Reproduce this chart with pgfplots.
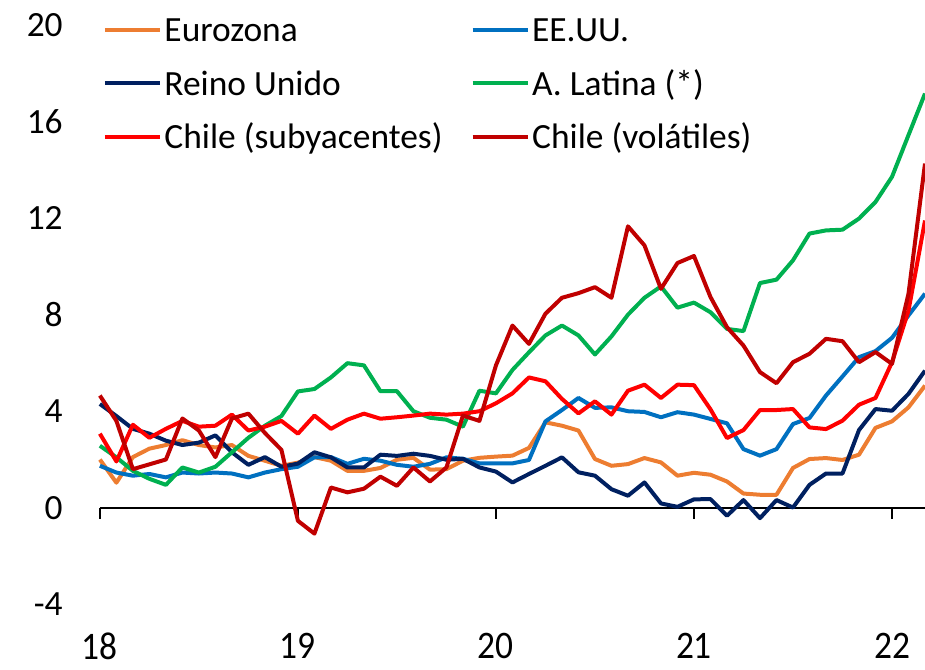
\documentclass[border=0pt]{standalone}
\usepackage{fontspec}
\setmainfont{Carlito}
\usepackage{pgfplots}
\usepackage{pgfplotstable}
\pgfplotsset{compat=1.18}
\definecolor{cEZ}{RGB}{237,125,49}
\definecolor{cUS}{RGB}{0,112,192}
\definecolor{cUK}{RGB}{0,32,96}
\definecolor{cLA}{RGB}{0,176,80}
\definecolor{cCS}{RGB}{255,0,0}
\definecolor{cCV}{RGB}{192,0,0}
\pgfplotstableread{
k ez us uk la cs cv
0 2.00 1.74 4.30 2.57 3.07 4.65
1 1.04 1.46 3.80 2.09 1.92 3.60
2 2.10 1.33 3.27 1.53 3.44 1.60
3 2.45 1.40 3.07 1.20 2.90 1.80
4 2.60 1.26 2.78 0.95 3.27 2.00
5 2.80 1.46 2.60 1.67 3.60 3.70
6 2.60 1.42 2.70 1.46 3.36 3.20
7 2.50 1.46 3.00 1.70 3.40 2.10
8 2.60 1.42 2.30 2.30 3.86 3.70
9 2.15 1.26 1.78 2.90 3.20 3.90
10 1.95 1.46 2.10 3.40 3.36 3.10
11 1.74 1.60 1.70 3.80 3.60 2.40
12 1.87 1.70 1.83 4.82 3.07 -0.54
13 2.10 2.09 2.30 4.92 3.82 -1.07
14 1.95 2.10 2.09 5.40 3.27 0.84
15 1.53 1.82 1.67 5.99 3.65 0.64
16 1.53 2.03 1.67 5.90 3.90 0.79
17 1.65 1.95 2.20 4.83 3.69 1.29
18 1.99 1.78 2.15 4.83 3.75 0.91
19 2.07 1.70 2.24 4.00 3.82 1.67
20 1.58 1.82 2.15 3.73 3.90 1.09
21 1.60 2.09 1.99 3.65 3.86 1.67
22 1.95 2.03 2.03 3.36 3.90 3.82
23 2.07 1.84 1.67 4.85 4.00 3.60
24 2.12 1.84 1.50 4.74 4.33 5.90
25 2.16 1.84 1.05 5.71 4.74 7.55
26 2.48 1.98 1.40 6.44 5.40 6.79
27 3.54 3.58 1.74 7.14 5.24 8.04
28 3.40 4.05 2.09 7.55 4.51 8.70
29 3.20 4.55 1.47 7.14 3.91 8.89
30 2.02 4.14 1.33 6.35 4.41 9.14
31 1.74 4.16 0.77 7.10 3.86 8.70
32 1.81 4.00 0.50 8.00 4.85 11.66
33 2.06 3.97 1.05 8.70 5.10 10.87
34 1.88 3.75 0.18 9.17 4.55 9.07
35 1.33 3.96 0.04 8.29 5.10 10.14
36 1.45 3.86 0.35 8.50 5.08 10.43
37 1.37 3.68 0.36 8.10 4.08 8.73
38 1.09 3.50 -0.33 7.41 2.89 7.48
39 0.59 2.43 0.32 7.32 3.22 6.72
40 0.54 2.16 -0.43 9.31 4.05 5.62
41 0.54 2.43 0.32 9.45 4.05 5.16
42 1.65 3.47 0.01 10.25 4.09 6.03
43 2.02 3.72 0.95 11.36 3.33 6.38
44 2.06 4.65 1.42 11.49 3.26 7.00
45 1.98 5.44 1.42 11.52 3.61 6.90
46 2.20 6.24 3.22 11.98 4.27 6.03
47 3.31 6.49 4.09 12.67 4.55 6.45
48 3.58 7.04 4.02 13.71 6.03 5.96
49 4.16 7.97 4.72 15.44 8.17 8.87
50 5.06 8.87 5.68 17.16 11.90 14.26
}\data
\begin{document}
\begin{tikzpicture}
\begin{axis}[
  scale only axis, width=619.5pt, height=435pt,
  xmin=0, xmax=50, ymin=-4, ymax=20,
  axis line style={draw=none},
  major tick length=0pt,
  xtick={0,12,24,36,48}, xticklabels={18,19,20,21,22},
  ytick={-4,0,4,8,12,16,20}, yticklabels={-4,0,4,8,12,16,20},
  tick label style={font=\fontsize{26.6}{32}\selectfont, inner sep=0pt},
  xticklabel style={anchor=north, yshift=-21.5pt, yscale=1.1},
  yticklabel style={anchor=east, xshift=-27.75pt},
  clip=false,
  every axis plot/.append style={line width=3pt, line join=round},
  legend cell align=left,
  legend columns=2,
  legend style={draw=none, fill=none, at={(rel axis cs:0.0036,1.0259)}, anchor=north west,
    inner sep=0pt, outer sep=0pt, row sep=9.2pt,
    font=\fontsize{26.6}{32}\selectfont,
    nodes={inner sep=0pt, text height=24pt, text depth=6.65pt},
    /tikz/every odd column/.append style={column sep=2pt},
    /tikz/every even column/.append style={column sep=21pt}},
  legend image code/.code={\draw[#1, line width=3pt] (0pt,0pt) -- (41.25pt,0pt);},
]
\draw[black, line width=1.5pt] (axis cs:0,0) -- (axis cs:50,0)
  (axis cs:0,0) -- ++(0pt,-8.25pt)
  (axis cs:12,0) -- ++(0pt,-8.25pt)
  (axis cs:24,0) -- ++(0pt,-8.25pt)
  (axis cs:36,0) -- ++(0pt,-8.25pt)
  (axis cs:48,0) -- ++(0pt,-8.25pt);
\addplot[cEZ] table[x=k, y=ez] {\data};
\addlegendentry{Eurozona}
\addplot[cUS] table[x=k, y=us] {\data};
\addlegendentry{EE.UU.}
\addplot[cUK] table[x=k, y=uk] {\data};
\addlegendentry{Reino Unido}
\addplot[cLA] table[x=k, y=la] {\data};
\addlegendentry{A. Latina (*)}
\addplot[cCS] table[x=k, y=cs] {\data};
\addlegendentry{Chile (subyacentes)}
\addplot[cCV] table[x=k, y=cv] {\data};
\addlegendentry{Chile (volátiles)}
\coordinate (BBsw) at (rel axis cs:-0.12107,-0.11207);
\coordinate (BBne) at (rel axis cs:1,1.0431);
\end{axis}
\pgfresetboundingbox
\useasboundingbox (BBsw) rectangle (BBne);
\end{tikzpicture}
\end{document}
